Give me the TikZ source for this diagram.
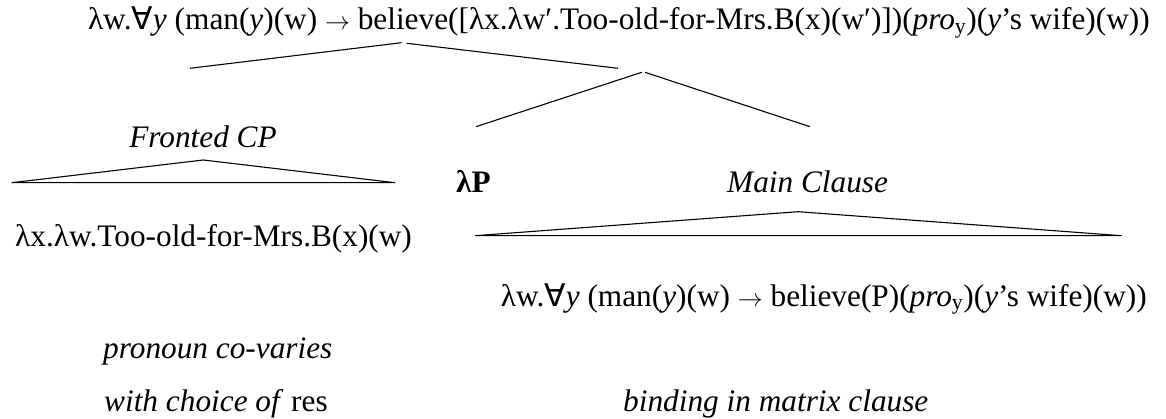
\documentclass[tikz,border=0pt]{standalone}
\usepackage{fontspec}
\setmainfont{Liberation Serif}
\newfontfamily\symfont{DejaVu Sans}
\newcommand{\fa}{{\symfont ∀}}
\newcommand{\arr}{$\rightarrow$}
\newcommand{\subY}{\textsubscript{y}}
\tikzset{
  txt/.style={inner sep=0pt, anchor=base west, font=\fontsize{31.3}{36}\selectfont},
  branch/.style={line width=1.1pt},
}
\begin{document}
\begin{tikzpicture}[x=1pt,y=-1pt]
\useasboundingbox (0,0) rectangle (1166,419);
% texts
\node[txt, anchor=base east] (top) at (1150,30) {λw.\fa\textit{y} (man(\textit{y})(w) \arr{} believe([λx.λw′.Too-old-for-Mrs.B(x)(w′)])(\textit{pro}\subY)(\textit{y}’s wife)(w))};
\node[txt, anchor=base] (fcp) at (203,148) {\textit{Fronted CP}};
\node[txt] (lp) at (456,193) {\textbf{λP}};
\node[txt] (mc) at (727,193) {\textit{Main Clause}};
\node[txt] (lx) at (15,247) {λx.λw.Too-old-for-Mrs.B(x)(w)};
\node[txt, anchor=base east] (bot) at (1147,306) {λw.\fa\textit{y} (man(\textit{y})(w) \arr{} believe(P)(\textit{pro}\subY)(\textit{y}’s wife)(w))};
\node[txt] (pc) at (103,358) {\textit{pronoun co-varies}};
\node[txt] (wc) at (104,411) {\textit{with choice of} res};
\node[txt] (bm) at (623,411) {\textit{binding in matrix clause}};
% tree coordinates
\coordinate (rootL) at (401.7,42.7);
\coordinate (rootR) at (406.7,43.3);
\coordinate (cpTop) at (190,68.3);
\coordinate (xbar) at (618,68.3);
\coordinate (nL) at (641.7,72.3);
\coordinate (nR) at (645,72.3);
\coordinate (lpTop) at (476,126.7);
\coordinate (mcTop) at (810,126.7);
\draw[branch] (cpTop) -- (rootL);
\draw[branch] (rootR) -- (xbar);
\draw[branch] (nL) -- (lpTop);
\draw[branch] (nR) -- (mcTop);
% triangles
\coordinate (fA) at (203.3,160);
\coordinate (fL) at (11.7,182.7);
\coordinate (fR) at (395,182.7);
\draw[branch] (fL) -- (fA) -- (fR) -- cycle;
\coordinate (mA) at (798,211.7);
\coordinate (mL) at (475,235.7);
\coordinate (mR) at (1121.7,235.7);
\draw[branch] (mL) -- (mA) -- (mR) -- cycle;
\end{tikzpicture}
\end{document}
